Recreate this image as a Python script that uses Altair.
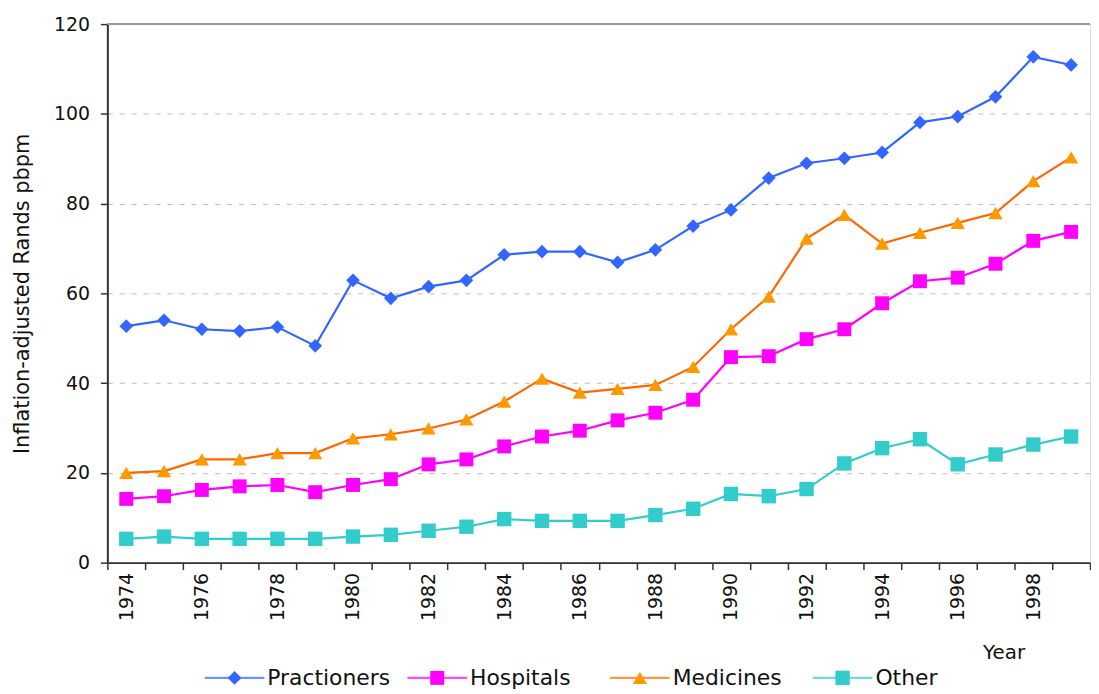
import altair as alt
import pandas as pd

years = list(range(1974, 2000))
series = ["Practioners", "Hospitals", "Medicines", "Other"]
practioners = [52.7, 54.0, 52.0, 51.6, 52.5, 48.3, 62.9, 58.9, 61.5, 62.9, 68.6, 69.3, 69.3,
               66.9, 69.7, 75.0, 78.6, 85.7, 89.0, 90.1, 91.4, 98.1, 99.4, 103.8, 112.7, 110.9]
hospitals = [14.2, 14.8, 16.2, 17.0, 17.3, 15.7, 17.3, 18.6, 21.9, 23.0, 25.9, 28.1, 29.4,
             31.7, 33.4, 36.3, 45.8, 46.0, 49.8, 52.0, 57.8, 62.7, 63.5, 66.6, 71.7, 73.7]
medicines = [20.0, 20.4, 23.0, 23.0, 24.4, 24.4, 27.7, 28.6, 29.9, 31.9, 35.9, 41.0, 37.9,
             38.7, 39.6, 43.6, 52.0, 59.3, 72.2, 77.5, 71.1, 73.5, 75.7, 77.9, 85.0, 90.3]
other = [5.3, 5.8, 5.3, 5.3, 5.3, 5.3, 5.8, 6.2, 7.1, 8.0, 9.7, 9.3, 9.3,
         9.3, 10.6, 12.0, 15.3, 14.8, 16.4, 22.1, 25.5, 27.5, 21.9, 24.1, 26.3, 28.1]
y_ticks = [0, 20, 40, 60, 80, 100, 120]

line_colors = ["#3366FF", "#FF00FF", "#FF6600", "#33CCCC"]
marker_colors = ["#3366FF", "#FF00FF", "#FF9900", "#33CCCC"]
shapes = ["diamond", "square", "triangle-up", "square"]
marker_sizes = [190, 210, 230, 210]

values = [practioners, hospitals, medicines, other]
rows = []
for s, vals in zip(series, values):
    for yr, v in zip(years, vals):
        rows.append({"year": yr, "series": s, "value": v})
df = pd.DataFrame(rows)
df_leg = pd.DataFrame({"series": series})
df_top = pd.DataFrame({"top": [y_ticks[-1]]})

FONT = "DejaVu Sans"

color_scale = alt.Scale(domain=series, range=line_colors)
fill_scale = alt.Scale(domain=series, range=marker_colors)
shape_scale = alt.Scale(domain=series, range=shapes)
size_scale = alt.Scale(domain=series, range=marker_sizes)

x_enc = alt.X(
    "year:O",
    scale=alt.Scale(type="band", paddingInner=0, paddingOuter=0),
    axis=alt.Axis(
        title="Year", labelAngle=270,
        labelExpr="datum.value % 2 == 0 ? datum.label : ''",
        tickBand="extent", tickSize=7, tickColor="#333", tickWidth=1.5,
        labelPadding=3, labelFontSize=19, labelFont=FONT, labelColor="#111",
        titleFont=FONT, titleFontSize=20, titleFontWeight="normal", titleColor="#111",
        titleX=902, titleY=80, titleAlign="center", titleBaseline="top",
        domainColor="#333", domainWidth=2, grid=False,
    ),
)
y_enc = alt.Y(
    "value:Q",
    scale=alt.Scale(domain=[0, y_ticks[-1]], nice=False),
    axis=alt.Axis(
        title="Inflation-adjusted Rands pbpm", values=y_ticks,
        tickSize=7, tickColor="#333", tickWidth=1.5,
        labelPadding=11, labelFontSize=19, labelFont=FONT, labelColor="#111",
        titleFont=FONT, titleFontSize=21, titleFontWeight="normal", titleColor="#111",
        titlePadding=21,
        grid=True, gridDash=[5, 7], gridColor="#bbbbbb", gridWidth=1,
        domainColor="#333", domainWidth=2,
    ),
)

top_rule = alt.Chart(df_top).mark_rule(color="#999999", strokeWidth=2).encode(
    y=alt.Y("top:Q", scale=alt.Scale(domain=[0, y_ticks[-1]], nice=False))
)

lines = alt.Chart(df).mark_line(strokeWidth=2.2).encode(
    x=x_enc, y=y_enc,
    color=alt.Color("series:N", scale=color_scale, legend=None),
)
points = alt.Chart(df).mark_point(filled=True, opacity=1).encode(
    x=x_enc, y=y_enc,
    fill=alt.Fill("series:N", scale=fill_scale, legend=None),
    shape=alt.Shape("series:N", scale=shape_scale, legend=None),
    size=alt.Size("series:N", scale=size_scale, legend=None),
)
main = alt.layer(top_rule, lines, points)

leg_x = alt.X("series:N", scale=alt.Scale(type="point", domain=series, range=[128, 740], padding=0), axis=None)
leg_y = alt.value(658)
leg_line = alt.Chart(df_leg).mark_tick(orient="horizontal", size=60, thickness=2.2).encode(
    x=leg_x, y=leg_y,
    color=alt.Color("series:N", scale=color_scale, legend=None),
)
leg_pt = alt.Chart(df_leg).mark_point(filled=True, opacity=1).encode(
    x=leg_x, y=leg_y,
    fill=alt.Fill("series:N", scale=fill_scale, legend=None),
    shape=alt.Shape("series:N", scale=shape_scale, legend=None),
    size=alt.Size("series:N", scale=size_scale, legend=None),
)
leg_txt = alt.Chart(df_leg).mark_text(align="left", baseline="middle", dx=33, fontSize=22,
                                      font=FONT, color="#111").encode(
    x=leg_x, y=leg_y, text="series:N",
)
legend = alt.layer(leg_line, leg_pt, leg_txt)

chart = alt.layer(main, legend).resolve_scale(x="independent").properties(
    width=989, height=542,
    padding={"left": 3, "top": 5, "right": 0, "bottom": 2},
).configure_view(stroke=None).configure(background="white")

chart.save("out.html", embed_options={"renderer": "svg", "actions": False})
